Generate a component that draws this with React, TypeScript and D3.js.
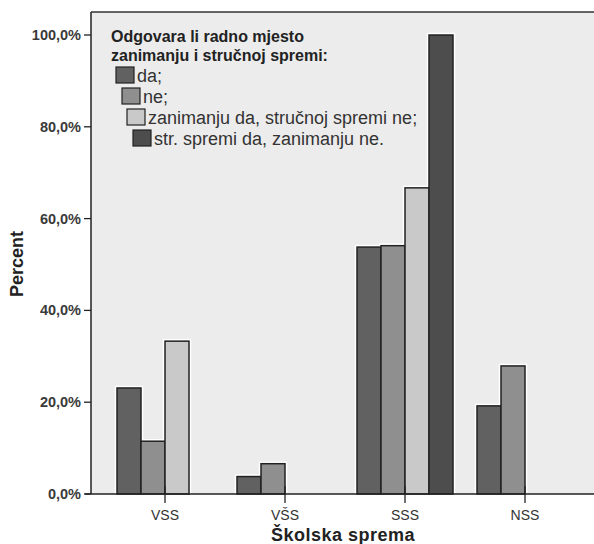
import React from "react";
import * as d3 from "d3";

const categories = ["VSS", "VŠS", "SSS", "NSS"];
const seriesNames = [
  "da;",
  "ne;",
  "zanimanju da, stručnoj spremi ne;",
  "str. spremi da, zanimanju ne.",
];
const seriesColors = ["#616161", "#8f8f8f", "#c9c9c9", "#4d4d4d"];
const daValues = [23.1, 3.8, 53.8, 19.2];
const neValues = [11.5, 6.6, 54.1, 27.9];
const zanDaValues = [33.3, 0, 66.7, 0];
const strDaValues = [0, 0, 100, 0];
const yTicks = [0, 20, 40, 60, 80, 100];
const legendTitle = ["Odgovara li radno mjesto", "zanimanju i stručnoj spremi:"];

const W = 594;
const H = 544;
const left = 91;
const right = 594;
const top = 12;
const bottom = 494;

export default function App() {
  const series = [daValues, neValues, zanDaValues, strDaValues];
  const y = d3.scaleLinear().domain([0, 100]).range([bottom, 35]);
  const x = d3
    .scaleBand<string>()
    .domain(categories)
    .range([105, 585])
    .paddingInner(0.2)
    .paddingOuter(0.1);
  const xs = d3
    .scaleBand<number>()
    .domain(d3.range(seriesNames.length))
    .range([0, x.bandwidth()]);

  const bars: { x: number; y: number; w: number; h: number; c: string }[] = [];
  series.forEach((vals, si) => {
    vals.forEach((v, ci) => {
      if (v <= 0) return;
      bars.push({
        x: (x(categories[ci]) as number) + (xs(si) as number),
        y: y(v),
        w: xs.bandwidth(),
        h: y(0) - y(v),
        c: seriesColors[si],
      });
    });
  });

  const font = "'Liberation Sans', Arial, sans-serif";
  const legendX = [116, 122, 127, 133];
  const legendY = [67, 88, 109, 130];

  return (
    <svg
      width={W}
      height={H}
      style={{ position: "absolute", left: 0, top: 0, background: "#fff" }}
      fontFamily={font}
    >
      <rect x={left} y={top} width={right - left} height={bottom - top} fill="#ececec" />
      {bars.map((b, i) => (
        <rect key={"h" + i} x={b.x} y={b.y} width={b.w} height={b.h} fill="none" stroke="#fff" strokeWidth={4.5} />
      ))}
      {bars.map((b, i) => (
        <rect key={"b" + i} x={b.x} y={b.y} width={b.w} height={b.h} fill={b.c} stroke="#222" strokeWidth={1.5} />
      ))}
      <line x1={left} x2={right} y1={top} y2={top} stroke="#333" strokeWidth={1.5} />
      <line x1={left} x2={left} y1={top} y2={bottom} stroke="#222" strokeWidth={1.5} />
      <line x1={left - 6} x2={right} y1={bottom} y2={bottom} stroke="#222" strokeWidth={1.5} />
      {yTicks.map((t) => (
        <g key={t}>
          <line x1={left - 7} x2={left} y1={y(t)} y2={y(t)} stroke="#222" strokeWidth={1.3} />
          <text x={81} y={y(t) + 5} textAnchor="end" fontSize={14.5} fontWeight={700} fill="#3a3a3a">
            {t.toFixed(1).replace(".", ",") + "%"}
          </text>
        </g>
      ))}
      {categories.map((c) => {
        const cx = (x(c) as number) + x.bandwidth() / 2;
        return (
          <g key={c}>
            <line x1={cx} x2={cx} y1={bottom - 8} y2={bottom + 9} stroke="#222" strokeWidth={1.3} />
            <text x={cx} y={520} textAnchor="middle" fontSize={14} fill="#333">
              {c}
            </text>
          </g>
        );
      })}
      <text x={343} y={541} textAnchor="middle" fontSize={18} fontWeight={700} fill="#222" letterSpacing={0.5}>
        Školska sprema
      </text>
      <text
        transform={`translate(23,${264}) rotate(-90)`}
        textAnchor="middle"
        fontSize={18}
        fontWeight={700}
        fill="#222"
      >
        Percent
      </text>
      {legendTitle.map((t, i) => (
        <text key={i} x={111} y={42 + i * 19} fontSize={16} fontWeight={700} fill="#222">
          {t}
        </text>
      ))}
      {seriesNames.map((s, i) => (
        <g key={s}>
          <rect x={legendX[i]} y={legendY[i]} width={18} height={16} fill={seriesColors[i]} stroke="#222" strokeWidth={1.2} />
          <text x={legendX[i] + 21} y={legendY[i] + 15} fontSize={18} fill="#333">
            {s}
          </text>
        </g>
      ))}
    </svg>
  );
}
